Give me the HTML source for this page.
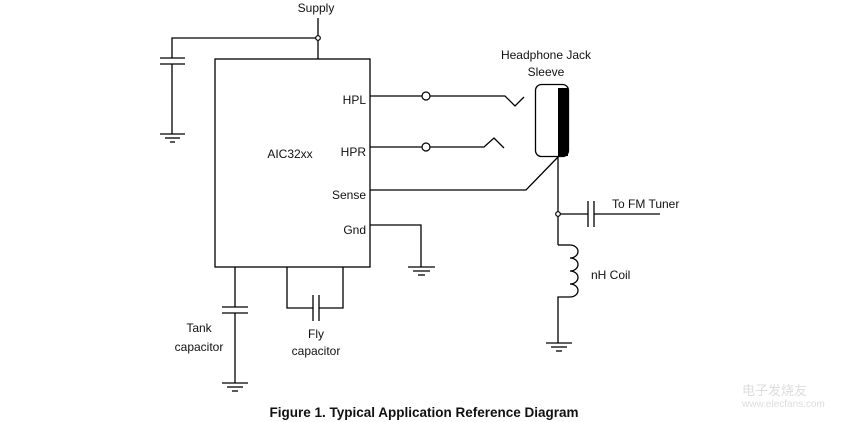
<!DOCTYPE html>
<html><head><meta charset="utf-8"><style>
html,body{margin:0;padding:0;background:#fff;}
svg{display:block;}
text{font-family:"Liberation Sans","Noto Sans CJK SC",sans-serif;font-size:12px;fill:#111;}
</style></head><body>
<svg width="850" height="422" viewBox="0 0 850 422" xmlns="http://www.w3.org/2000/svg">
<g stroke="#000" stroke-width="1.3" fill="none">
<!-- supply -->
<line x1="318" y1="18" x2="318" y2="59"/>
<polyline points="172,134 172,64"/>
<polyline points="172,58 172,38 318,38"/>
<line x1="160" y1="58" x2="185" y2="58"/>
<line x1="160" y1="64" x2="185" y2="64"/>
<line x1="160" y1="134" x2="185" y2="134"/>
<line x1="165" y1="138" x2="180" y2="138"/>
<line x1="170" y1="142" x2="175" y2="142"/>
<!-- box -->
<rect x="215" y="59" width="155" height="208"/>
<!-- HPL -->
<line x1="370" y1="96" x2="422" y2="96"/>
<polyline points="430,96 505,96 515,106 524,97"/>
<!-- HPR -->
<line x1="370" y1="147" x2="422" y2="147"/>
<polyline points="430,147 484,147 494,138 504,148"/>
<!-- jack -->
<rect x="535.5" y="84.5" width="33" height="72" rx="6"/>
<!-- sense -->
<polyline points="370,190 526,190 558,157"/>
<line x1="558" y1="157" x2="558" y2="245"/>
<polyline points="558,245 570,245"/>
<path d="M570,245 a8,6.5 0 0 1 0,13 a8,6.5 0 0 1 0,13 a8,6.5 0 0 1 0,13 a8,6.5 0 0 1 0,13"/>
<polyline points="570,297 558,297 558,343"/>
<line x1="546" y1="343" x2="572" y2="343"/>
<line x1="551" y1="347" x2="567" y2="347"/>
<line x1="556" y1="351" x2="562" y2="351"/>
<!-- FM -->
<line x1="558" y1="214" x2="588" y2="214"/>
<line x1="588" y1="201" x2="588" y2="227"/>
<line x1="594" y1="201" x2="594" y2="227"/>
<line x1="594" y1="214" x2="660" y2="214"/>
<!-- Gnd -->
<polyline points="370,225 421,225 421,267"/>
<line x1="408" y1="267" x2="435" y2="267"/>
<line x1="413" y1="271" x2="430" y2="271"/>
<line x1="418" y1="275" x2="425" y2="275"/>
<!-- tank -->
<line x1="235" y1="267" x2="235" y2="307"/>
<line x1="222" y1="307" x2="248" y2="307"/>
<line x1="222" y1="313" x2="248" y2="313"/>
<line x1="235" y1="313" x2="235" y2="383"/>
<line x1="222" y1="383" x2="248" y2="383"/>
<line x1="227" y1="387" x2="243" y2="387"/>
<line x1="232" y1="391" x2="238" y2="391"/>
<!-- fly -->
<polyline points="287,267 287,308 313,308"/>
<polyline points="343,267 343,308 319,308"/>
<line x1="313" y1="295" x2="313" y2="321"/>
<line x1="319" y1="295" x2="319" y2="321"/>
</g>
<rect x="558" y="88" width="10" height="68" fill="#000"/>
<g fill="#fff" stroke="#000" stroke-width="1.2">
<circle cx="318" cy="38" r="2.3"/>
<circle cx="426" cy="96" r="4"/>
<circle cx="426" cy="147" r="4"/>
<circle cx="558" cy="214" r="2.3"/>
</g>
<text x="316" y="12" text-anchor="middle">Supply</text>
<text x="290" y="158" text-anchor="middle">AIC32xx</text>
<text x="366" y="104" text-anchor="end">HPL</text>
<text x="366" y="156" text-anchor="end">HPR</text>
<text x="366" y="199" text-anchor="end">Sense</text>
<text x="366" y="234" text-anchor="end">Gnd</text>
<text x="546" y="59" text-anchor="middle">Headphone Jack</text>
<text x="546" y="76" text-anchor="middle">Sleeve</text>
<text x="612" y="208">To FM Tuner</text>
<text x="591" y="279">nH Coil</text>
<text x="199" y="332" text-anchor="middle">Tank</text>
<text x="199" y="351" text-anchor="middle">capacitor</text>
<text x="316" y="338" text-anchor="middle">Fly</text>
<text x="316" y="355" text-anchor="middle">capacitor</text>
<text x="424" y="417" text-anchor="middle" style="font-weight:bold;font-size:13.5px;">Figure 1. Typical Application Reference Diagram</text>
<text x="742" y="395" style="font-size:13px;fill:#ddd;">电子发烧友</text>
<text x="742" y="407" style="font-size:10px;fill:#ddd;">www.elecfans.com</text>
</svg>
</body></html>
